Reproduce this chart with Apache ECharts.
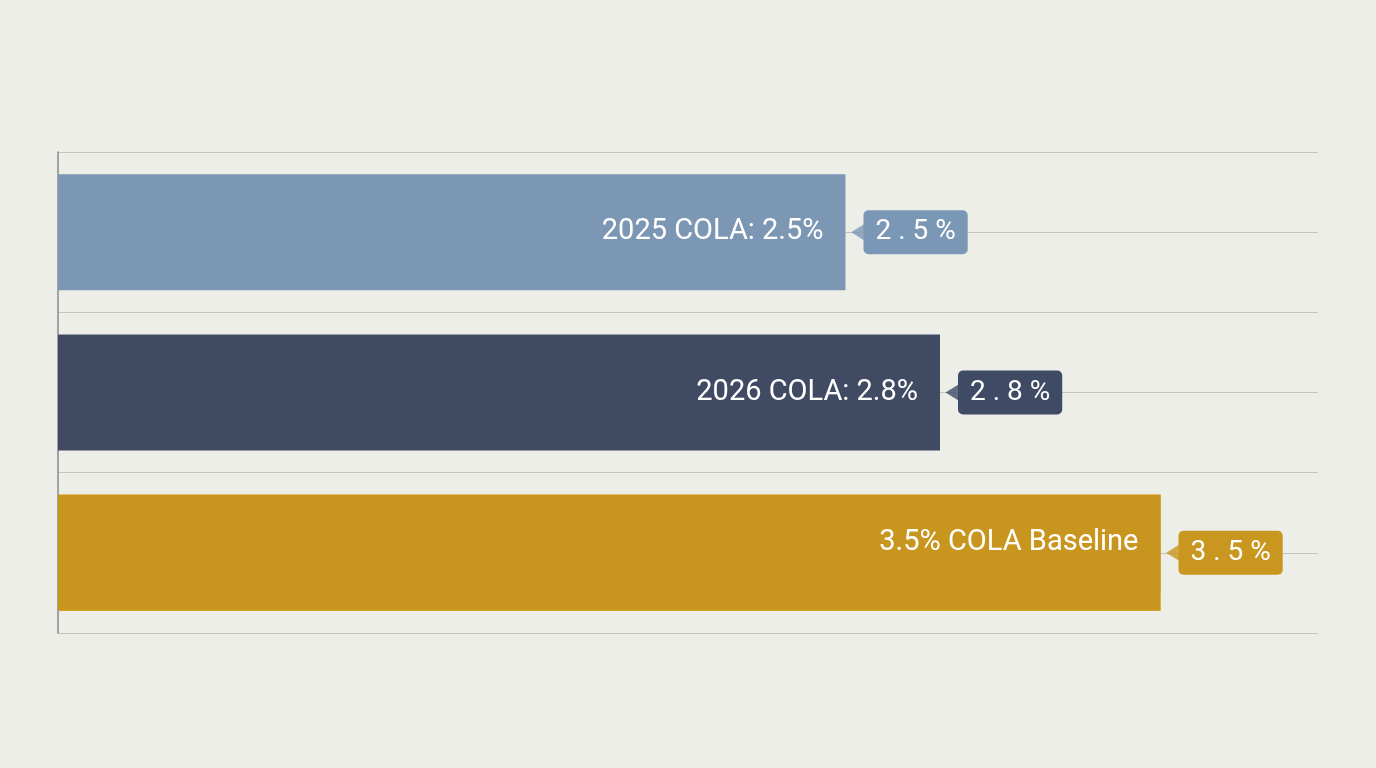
<!DOCTYPE html>
<html><head><meta charset="utf-8">
<script src="https://cdn.jsdelivr.net/npm/echarts@6/dist/echarts.min.js"></script>
<style>html,body{margin:0;background:#eeeee9}#c{width:1376px;height:768px}</style>
</head><body><div id="c"></div>
<script>
const categories = ['2025 COLA', '2026 COLA', '3.5% COLA Baseline'];
const values = [2.5, 2.8, 3.5];
const barLabels = ['2025 COLA: 2.5%', '2026 COLA: 2.8%', '3.5% COLA Baseline'];
const tagLabels = ['2.5%', '2.8%', '3.5%'];
const barColors = ['#7b97b4', '#404a63', '#c8961e'];
const tagColors = ['#7a97b5', '#3f4a65', '#c9961f'];

const chart = echarts.init(document.getElementById('c'));
const font = 'Roboto';
chart.setOption({
  backgroundColor: '#eeeee9',
  animation: false,
  grid: {left: 58, right: 58, top: 152, bottom: 135},
  xAxis: {type: 'value', min: 0, max: 4, show: false},
  yAxis: [
    {type: 'category', data: categories, inverse: true,
     axisLine: {show: true, lineStyle: {color: '#888', width: 1.5}},
     axisTick: {show: false}, axisLabel: {show: false}, splitLine: {show: false}},
    {type: 'value', min: 0, max: 6, interval: 1, position: 'left',
     axisLine: {show: false}, axisTick: {show: false}, axisLabel: {show: false},
     splitLine: {show: true, lineStyle: {color: '#c4c4c0', width: 1.2}}}
  ],
  series: [
    {type: 'bar', yAxisIndex: 0, barWidth: 116, z: 2,
     data: values.map((v, i) => ({value: i === 2 ? v : null,
       itemStyle: {color: '#f3ae0c'}}))},
    {type: 'bar', yAxisIndex: 0, barGap: '-100%', z: 3,
     data: values.map((v, i) => ({value: v,
       itemStyle: {color: barColors[i]}})),
     barWidth: 116,
     itemStyle: {},
     label: {show: true, position: 'insideRight', distance: 22, color: '#fff',
       fontFamily: font, fontSize: 29,
       formatter: p => barLabels[p.dataIndex]}},
    {type: 'bar', yAxisIndex: 0, barGap: '-100%', barWidth: 96, z: 4,
     data: values.map((v, i) => ({value: i === 2 ? v : null,
       itemStyle: {color: '#c8961e'}})),
     label: {show: true, position: 'insideRight', distance: 22, color: '#fff',
       fontFamily: font, fontSize: 29,
       formatter: p => barLabels[p.dataIndex]}},
    {type: 'bar', yAxisIndex: 0, barGap: '-100%', barWidth: 116, z: 1,
     data: values.map((v, i) => ({value: v, itemStyle: {color: 'rgba(0,0,0,0)'},
       label: {backgroundColor: tagColors[i]}})),
     label: {show: true, position: 'right', distance: 18, color: '#fff',
       fontFamily: font, fontSize: 28, padding: [9, 12, 7, 12], borderRadius: 5,
       formatter: p => tagLabels[p.dataIndex].split('').join(' ')}},
    {type: 'scatter', yAxisIndex: 0, z: 5, symbol: 'triangle', symbolRotate: 90,
     symbolSize: [16, 13], symbolOffset: [12, 0],
     data: values.map((v, i) => ({value: [v, categories[i]], itemStyle: {color: tagColors[i]}}))}
  ]
});
</script></body></html>
